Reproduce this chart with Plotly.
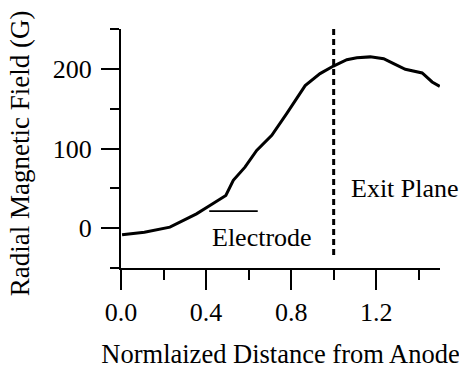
import plotly.graph_objects as go

# Data
distance = [0.005, 0.11, 0.23, 0.277, 0.355, 0.418, 0.493, 0.528, 0.583, 0.638,
            0.709, 0.779, 0.866, 0.936, 0.999, 1.062, 1.109, 1.172, 1.235, 1.282,
            1.337, 1.416, 1.463, 1.499]
field = [-8.3, -5, 1.3, 7.5, 18, 28.5, 41, 60, 76.6, 97.6,
         116.5, 143.7, 179, 194, 203.5, 211.5, 214, 215, 212.8, 206.5,
         199.4, 194.8, 183.5, 178]
electrode_x = [0.415, 0.643]
electrode_y = [21.4, 21.4]
exit_plane_x = [1.0, 1.0]
exit_plane_y = [250, -38]
x_range = [0, 1.5]
y_range = [-50, 250]

FONT = "Liberation Serif, Times New Roman, serif"

fig = go.Figure()
fig.add_trace(go.Scatter(x=distance, y=field, mode="lines",
                         line=dict(color="black", width=3), showlegend=False))
fig.add_trace(go.Scatter(x=electrode_x, y=electrode_y, mode="lines",
                         line=dict(color="black", width=1.8), showlegend=False))
fig.add_trace(go.Scatter(x=exit_plane_x, y=exit_plane_y, mode="lines",
                         line=dict(color="black", width=3, dash="6px,4px"),
                         showlegend=False))

fig.add_annotation(x=0.418, y=-11.3, text="Electrode", showarrow=False,
                   xanchor="left", yanchor="middle",
                   font=dict(family=FONT, size=26, color="black"))
fig.add_annotation(x=1.07, y=50, text="Exit Plane", showarrow=False,
                   xanchor="left", yanchor="middle",
                   font=dict(family=FONT, size=26, color="black"))
# y-axis title placed as rotated text
fig.add_annotation(x=-0.314, y=0.4795, xref="paper", yref="paper",
                   text="Radial Magnetic Field (G)", textangle=-90,
                   showarrow=False, xanchor="center", yanchor="middle",
                   font=dict(family=FONT, size=27, color="black"))

fig.update_layout(
    width=459, height=370,
    margin=dict(l=121, r=19, t=29, b=102),
    plot_bgcolor="white", paper_bgcolor="white",
    font=dict(family=FONT, size=26, color="black"),
    xaxis=dict(range=x_range, showgrid=False, zeroline=False, automargin=False,
               showline=True, linecolor="black", linewidth=2,
               ticks="outside", ticklen=20, tickwidth=2, tickcolor="black",
               tick0=0, dtick=0.4, tickformat=".1f",
               minor=dict(ticks="outside", ticklen=10, tickwidth=2,
                          tickcolor="black", dtick=0.2, tick0=0, showgrid=False),
               title=dict(text="Normlaized Distance from Anode", standoff=18,
                          font=dict(family=FONT, size=26.5))),
    yaxis=dict(range=y_range, showgrid=False, zeroline=False, automargin=False,
               showline=True, linecolor="black", linewidth=2,
               ticks="outside", ticklen=18, tickwidth=2, tickcolor="black",
               tick0=0, dtick=100, ticklabelstandoff=4,
               minor=dict(ticks="outside", ticklen=9, tickwidth=2,
                          tickcolor="black", dtick=50, tick0=0, showgrid=False)),
)

fig.write_html("out.html")
